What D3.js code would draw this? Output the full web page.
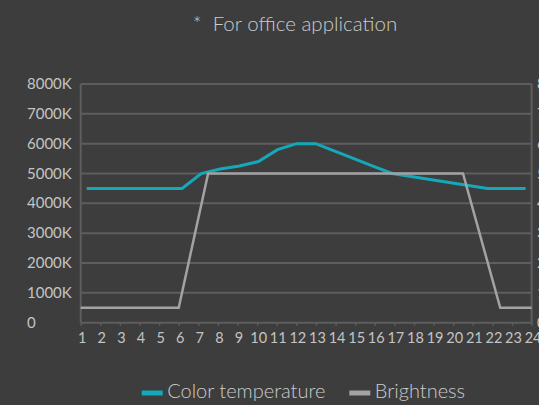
<!DOCTYPE html>
<html>
<head>
<meta charset="utf-8">
<script src="https://cdn.jsdelivr.net/npm/d3@7"></script>
<style>
  body { margin: 0; background: #3d3d3d; }
  svg { display: block; font-family: Lato, "Open Sans", sans-serif; }
</style>
</head>
<body>
<div id="chart"></div>
<script>
const hours = d3.range(1, 25);
const colorTemp = [4500, 4500, 4500, 4500, 4500, 4500, 5000, 5150, 5250, 5400, 5800, 6000,
                   6000, 5750, 5500, 5250, 5000, 4900, 4800, 4700, 4600, 4500, 4500, 4500];
// brightness (%), given at hour positions
const brightHours = [1, 6, 7.5, 20.5, 22.4, 24];
const brightness = [5, 5, 50, 50, 5, 5];
const leftTicks = [0, 1000, 2000, 3000, 4000, 5000, 6000, 7000, 8000];
const rightTicks = [0, 10, 20, 30, 40, 50, 60, 70, 80];

const w = 539, h = 405;
const plotL = 80.7, plotR = 531.6, plotT = 84, plotB = 322.7;

const svg = d3.select("#chart").append("svg")
    .attr("width", w)
    .attr("height", h);

const xTick = d3.scaleLinear().domain([1, 24]).range([plotL, plotR]);
const xTemp = d3.scalePoint().domain(hours).range([plotL + 6, plotR - 6]);
const yLeft = d3.scaleLinear().domain([0, 8000]).range([plotB, plotT]);
const yRight = d3.scaleLinear().domain([0, 80]).range([plotB, plotT]);

// grid
svg.append("g")
    .selectAll("line")
    .data(leftTicks)
    .enter()
    .append("line")
    .attr("x1", plotL)
    .attr("x2", plotR)
    .attr("y1", d => yLeft(d))
    .attr("y2", d => yLeft(d))
    .attr("stroke", "#5e5e5e")
    .attr("stroke-width", 2);

// vertical axis lines
svg.append("line")
    .attr("x1", plotL).attr("x2", plotL)
    .attr("y1", plotT).attr("y2", plotB)
    .attr("stroke", "#5e5e5e").attr("stroke-width", 2);
svg.append("line")
    .attr("x1", plotR).attr("x2", plotR)
    .attr("y1", plotT).attr("y2", plotB)
    .attr("stroke", "#5e5e5e").attr("stroke-width", 2);

// x ticks and labels
const xAxis = d3.axisBottom(xTick)
    .tickValues(hours)
    .tickFormat(d3.format("d"))
    .tickSize(3)
    .tickPadding(7);
const ax = svg.append("g")
    .attr("transform", `translate(0,${plotB})`)
    .call(xAxis);
ax.select(".domain").remove();
ax.selectAll(".tick line").attr("stroke", "#5e5e5e").attr("stroke-width", 1.5);
ax.selectAll(".tick text")
    .attr("fill", "#c4c4c4")
    .attr("font-size", 14.5)
    .attr("font-family", "Lato, sans-serif")
    .attr("dx", 1);

// left labels
svg.append("g")
    .selectAll("text")
    .data(leftTicks)
    .enter()
    .append("text")
    .attr("x", 27)
    .attr("y", d => yLeft(d) + 5)
    .attr("fill", "#c4c4c4")
    .attr("font-size", 15)
    .text(d => d === 0 ? "0" : d + "K");

// right labels (mostly off-canvas, as in the source)
svg.append("g")
    .selectAll("text")
    .data(rightTicks)
    .enter()
    .append("text")
    .attr("x", 537)
    .attr("y", d => yRight(d) + 5)
    .attr("fill", "#c4c4c4")
    .attr("font-size", 14.5)
    .text(d => d + "%");

// lines
const tempLine = d3.line()
    .x((d, i) => xTemp(hours[i]))
    .y(d => yLeft(d));
svg.append("path")
    .datum(colorTemp)
    .attr("d", tempLine)
    .attr("fill", "none")
    .attr("stroke", "#14a9ba")
    .attr("stroke-width", 3);

const brightLine = d3.line()
    .x((d, i) => xTick(brightHours[i]))
    .y(d => yRight(d));
svg.append("path")
    .datum(brightness)
    .attr("d", brightLine)
    .attr("fill", "none")
    .attr("stroke", "#a3a3a5")
    .attr("stroke-width", 2.5);

// title
svg.append("text")
    .attr("x", 295)
    .attr("y", 31)
    .attr("text-anchor", "middle")
    .attr("fill", "#cbcbcb")
    .attr("font-size", 20.5)
    .attr("font-weight", 300)
    .attr("xml:space", "preserve")
    .text("*  For office application");

// legend
const legend = [
    {name: "Color temperature", color: "#14a9ba", x: 141.7},
    {name: "Brightness", color: "#a3a3a5", x: 349.3}
];
const lg = svg.append("g")
    .selectAll("g")
    .data(legend)
    .enter()
    .append("g");
lg.append("rect")
    .attr("x", d => d.x)
    .attr("y", 390.5)
    .attr("width", 21)
    .attr("height", 5)
    .attr("fill", d => d.color);
lg.append("text")
    .attr("x", d => d.x + 25.5)
    .attr("y", 398)
    .attr("fill", "#cbcbcb")
    .attr("font-size", 20)
    .attr("font-weight", 300)
    .text(d => d.name);
</script>
</body>
</html>
